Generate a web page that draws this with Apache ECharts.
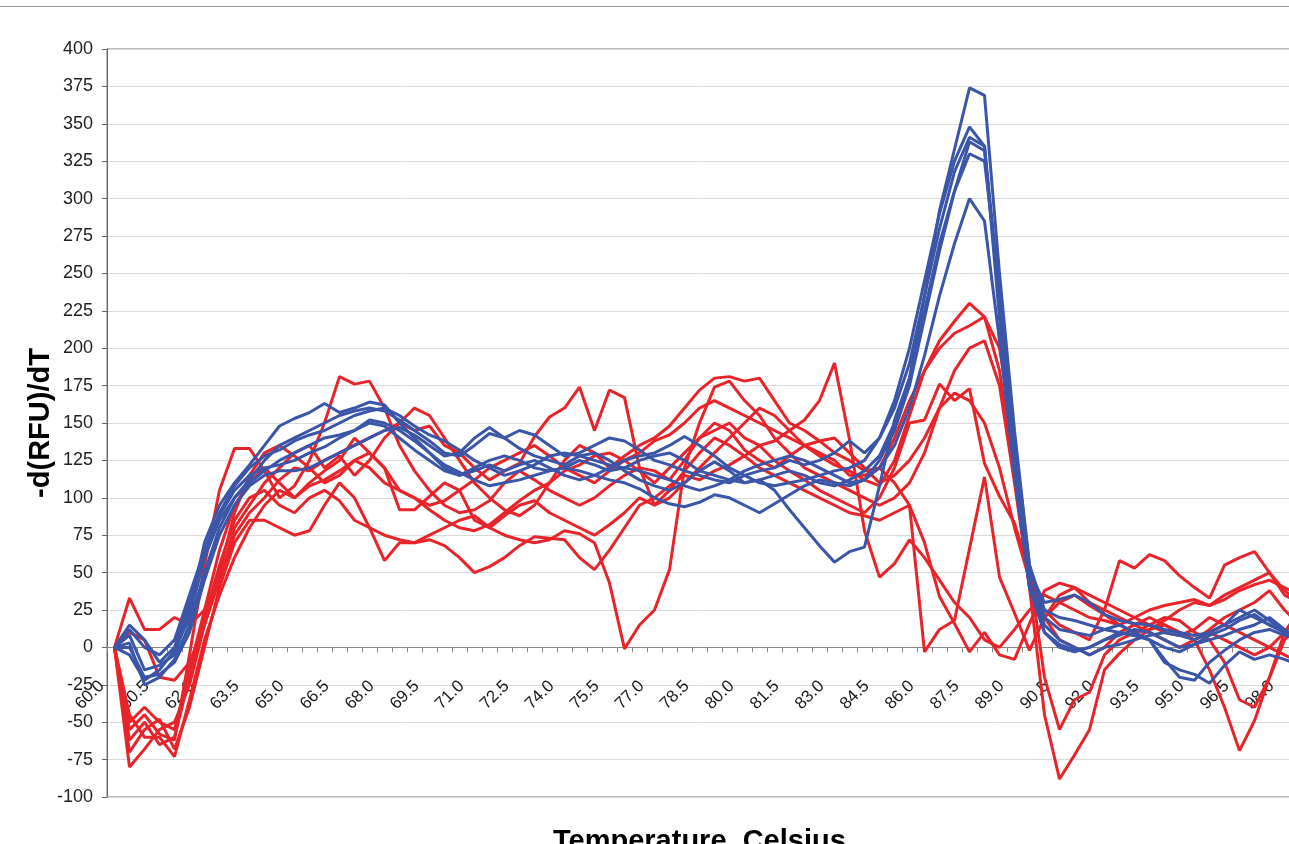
<!DOCTYPE html>
<html>
<head>
<meta charset="utf-8">
<script src="https://cdn.jsdelivr.net/npm/echarts/dist/echarts.min.js"></script>
<style>
  html, body { margin: 0; padding: 0; background: #fff; overflow: hidden; }
  #chart { width: 1289px; height: 844px; }
</style>
</head>
<body>
<div id="chart"></div>
<script>
// Temperature categories (Celsius)
const categories = [
  "60.0","60.5","61.0","61.5","62.0","62.5","63.0","63.5","64.0","64.5",
  "65.0","65.5","66.0","66.5","67.0","67.5","68.0","68.5","69.0","69.5",
  "70.0","70.5","71.0","71.5","72.0","72.5","73.0","73.5","74.0","74.5",
  "75.0","75.5","76.0","76.5","77.0","77.5","78.0","78.5","79.0","79.5",
  "80.0","80.5","81.0","81.5","82.0","82.5","83.0","83.5","84.0","84.5",
  "85.0","85.5","86.0","86.5","87.0","87.5","88.0","88.5","89.0","89.5",
  "90.0","90.5","91.0","91.5","92.0","92.5","93.0","93.5","94.0","94.5",
  "95.0","95.5","96.0","96.5","97.0","97.5","98.0","98.5","99.0","99.5"
];

// Red curves, -d(RFU)/dT
const red1 = [0,-55,-45,-58,-62,-5,55,105,133,133, 118,100,108,125,150,181,176,178,160,135, 118,105,95,90,92,98,110,118,112,105, 100,95,100,108,115,120,118,112,125,140, 150,145,132,125,120,128,135,128,122,118, 112,108,125,155,185,205,218,230,221,185, 115,40,-45,-88,-72,-55,-15,-4,5,12, 15,10,5,12,20,25,30,38,25,15];
const red2 = [0,-80,-68,-55,-50,-25,15,45,75,90, 100,112,120,118,125,130,135,140,145,150, 160,155,140,125,110,100,92,88,95,110, 125,135,130,120,128,135,140,148,160,172, 180,181,178,180,165,150,145,138,130,125, 118,120,140,165,185,200,210,215,221,200, 140,50,-20,-55,-35,-30,-5,5,10,15, 20,18,10,5,-10,-35,-40,-20,10,25];
const red3 = [0,-70,-55,-48,-68,-40,0,40,70,85, 85,80,75,78,95,110,100,80,58,70, 70,72,68,60,50,54,60,68,74,73, 72,60,52,65,80,95,100,108,115,112, 118,122,128,135,125,118,112,105,100,95, 90,100,120,150,152,176,165,173,123,101, 83,50,20,5,0,-5,0,10,15,20, 15,10,5,-15,-40,-69,-49,-20,5,15];
const red4 = [0,-45,-60,-60,-73,-35,5,35,60,80, 95,105,100,110,118,125,140,130,120,92, 92,101,110,105,85,80,88,95,98,90, 85,80,75,82,90,100,95,105,118,130, 140,135,128,120,115,110,105,100,95,90, 88,85,90,95,-3,12,18,66,114,47, 23,-2,20,35,40,30,25,20,15,10, 5,0,5,10,5,0,-5,0,10,20];
const red5 = [0,33,12,12,20,15,25,45,80,95, 110,120,130,135,120,128,115,125,140,150, 145,148,135,130,120,112,118,123,141,154, 160,174,145,172,167,120,95,100,110,120, 130,140,150,160,155,145,135,130,125,115, 115,120,110,95,70,34,16,-3,10,-5, -8,16,38,43,40,35,30,25,20,15, 10,8,12,20,15,10,5,0,-5,-10];
const red6 = [0,-62,-50,-65,-60,-20,20,55,85,100, 105,95,90,100,105,98,85,80,75,72, 70,75,80,85,88,80,75,72,70,72, 78,76,70,43,-1,15,25,52,120,150, 174,178,165,155,140,130,120,115,110,105, 100,95,100,110,130,160,185,200,205,175, 110,40,20,30,35,28,22,15,10,12, 18,25,30,28,32,38,42,45,40,35];
const red7 = [0,10,5,-20,-22,-10,15,50,90,115, 130,135,128,120,110,115,125,130,120,105, 100,92,85,80,78,82,90,98,105,110, 118,122,128,130,125,118,110,120,130,140, 145,150,140,135,138,145,152,165,190,139, 78,47,56,72,60,45,30,20,5,0, 12,25,35,30,25,20,18,15,20,25, 28,30,32,28,35,40,45,50,38,30];
const red8 = [0,-50,-40,-50,-55,-15,25,65,95,110, 120,110,100,108,112,118,125,120,110,105, 100,95,98,105,112,120,125,130,135,128, 120,115,110,118,125,130,138,142,150,160, 165,160,155,150,145,140,135,138,140,130, 120,110,115,125,140,160,170,165,150,120, 80,45,25,15,10,5,25,58,53,62, 58,48,40,33,55,60,64,50,35,30];

// Blue curves, -d(RFU)/dT
const blue1 = [0,15,5,-10,0,30,60,85,100,110, 118,125,130,135,140,142,145,150,148,140, 132,125,118,115,120,125,128,125,120,118, 120,125,122,118,120,125,128,130,125,118, 115,112,110,112,105,92,80,68,57,64, 67,108,152,180,235,292,333,374,369,250, 145,55,20,12,10,8,12,15,10,5, 0,-3,2,8,12,18,22,15,10,5];
const blue2 = [0,8,-15,-12,-5,25,70,95,110,122, 135,148,153,157,163,157,160,164,162,150, 140,130,120,115,118,122,118,122,125,120, 115,112,115,120,125,128,130,135,141,135, 128,120,115,110,108,110,112,115,118,120, 125,140,165,200,245,290,325,348,335,235, 130,45,15,5,0,-5,0,2,5,8, 10,8,5,10,15,20,25,18,10,5];
const blue3 = [0,3,-25,-20,-8,15,50,80,100,112, 125,135,140,145,150,155,158,160,158,152, 145,138,130,128,135,143,140,145,142,135, 128,130,135,140,138,132,125,122,118,115, 112,110,115,118,120,125,122,125,130,138, 130,140,160,190,235,280,318,341,335,220, 120,40,10,2,-2,0,5,8,12,10, 5,0,2,5,8,12,15,20,12,5];
const blue4 = [0,0,-20,-18,-10,10,45,75,95,108, 115,118,118,120,125,130,135,140,145,147, 142,135,128,130,140,147,140,133,128,125, 122,128,130,125,118,112,108,105,110,118, 124,118,110,112,115,118,115,110,108,112, 118,128,150,180,225,270,305,330,325,240, 140,55,25,20,18,15,12,10,8,5, -8,-20,-22,-10,-2,5,10,12,8,5];
const blue5 = [0,-5,-22,-15,-2,20,60,88,105,115, 120,122,125,130,134,140,145,152,150,145, 138,130,122,117,112,108,110,112,115,118, 120,118,115,112,110,106,100,96,94,97, 102,100,95,90,96,102,108,112,110,108, 112,120,135,160,195,235,270,300,285,205, 115,40,10,0,-3,0,5,10,8,5, -10,-15,-18,-24,-12,-3,-8,-5,-8,-12];
const blue6 = [0,12,0,-5,5,35,65,90,108,120, 128,132,138,142,145,150,155,158,160,155, 148,142,138,132,125,120,115,118,122,128, 130,128,125,122,120,118,115,112,108,105, 108,112,118,122,125,128,125,120,115,110, 112,125,145,175,220,265,305,338,332,230, 125,50,30,32,35,30,22,18,16,15, 12,10,8,10,15,25,20,15,10,5];

const redData = [red1, red2, red3, red4, red5, red6, red7, red8];
const blueData = [blue1, blue2, blue3, blue4, blue5, blue6];

const RED = '#e8242b';
const BLUE = '#3b56a8';
const FONT = "'Liberation Sans', Arial, sans-serif";

const series = [];
redData.forEach((d, i) => series.push({
  name: 'red' + (i + 1), type: 'line', data: d, symbol: 'none',
  xAxisIndex: 0, yAxisIndex: 0,
  lineStyle: { color: RED, width: 3 }, itemStyle: { color: RED }, z: 2
}));
blueData.forEach((d, i) => series.push({
  name: 'blue' + (i + 1), type: 'line', data: d, symbol: 'none',
  xAxisIndex: 0, yAxisIndex: 0,
  lineStyle: { color: BLUE, width: 3 }, itemStyle: { color: BLUE }, z: 3
}));

// helper axes that only carry the rotated tick labels just below the zero line
function labelAxis(gridIndex, intervalFn) {
  return {
    gridIndex: gridIndex, type: 'category', data: categories, boundaryGap: true,
    position: 'bottom', z: 1,
    axisLine: { show: false, onZero: false },
    axisTick: { show: false },
    axisLabel: { interval: intervalFn, rotate: 45, margin: 36, fontSize: 17, color: '#1a1a1a', fontFamily: FONT },
    splitLine: { show: false }
  };
}

const chart = echarts.init(document.getElementById('chart'), null, { renderer: 'canvas' });
chart.setOption({
  animation: false,
  textStyle: { fontFamily: FONT },
  title: {
    text: 'Temperature, Celsius', left: 553, top: 827, padding: 0,
    textStyle: { fontFamily: FONT, fontSize: 29, fontWeight: 'bold', color: '#000' }
  },
  graphic: [{
    type: 'line', shape: { x1: 0, y1: 6.5, x2: 1289, y2: 6.5 },
    style: { stroke: '#999', lineWidth: 1 }
  }],
  grid: [
    { left: 107, top: 49, width: 1200, height: 748, show: true, borderColor: '#777', borderWidth: 1,
      backgroundColor: 'transparent', containLabel: false, outerBoundsMode: 'none' },
    { left: 124, top: 49, width: 1200, height: 598.4, containLabel: false, outerBoundsMode: 'none' },
    { left: 94, top: 49, width: 1200, height: 598.4, containLabel: false, outerBoundsMode: 'none' }
  ],
  xAxis: [
    {
      gridIndex: 0, type: 'category', data: categories, boundaryGap: true,
      axisLine: { show: true, onZero: true, lineStyle: { color: '#888', width: 1 } },
      axisTick: { show: true, interval: 0, length: 5, lineStyle: { color: '#888' } },
      axisLabel: { show: false },
      splitLine: { show: false }
    },
    labelAxis(1, (i) => i % 3 === 1),
    labelAxis(2, (i) => i === 0)
  ],
  yAxis: [
    {
      gridIndex: 0, type: 'value', min: -100, max: 400, interval: 25,
      name: '-d(RFU)/dT', nameLocation: 'middle', nameRotate: 90, nameGap: 52,
      nameMoveOverlap: false,
      nameTextStyle: { fontFamily: FONT, fontSize: 29, fontWeight: 'bold', color: '#000' },
      axisLine: { show: true, lineStyle: { color: '#666', width: 1 } },
      axisTick: { show: true, length: 5, lineStyle: { color: '#666' } },
      axisLabel: { fontSize: 18, color: '#222', margin: 14, fontFamily: FONT },
      splitLine: { show: true, lineStyle: { color: '#d9d9d9', width: 1 } }
    },
    { gridIndex: 1, type: 'value', min: 0, max: 400, show: false },
    { gridIndex: 2, type: 'value', min: 0, max: 400, show: false }
  ],
  series: series
});
</script>
</body>
</html>
